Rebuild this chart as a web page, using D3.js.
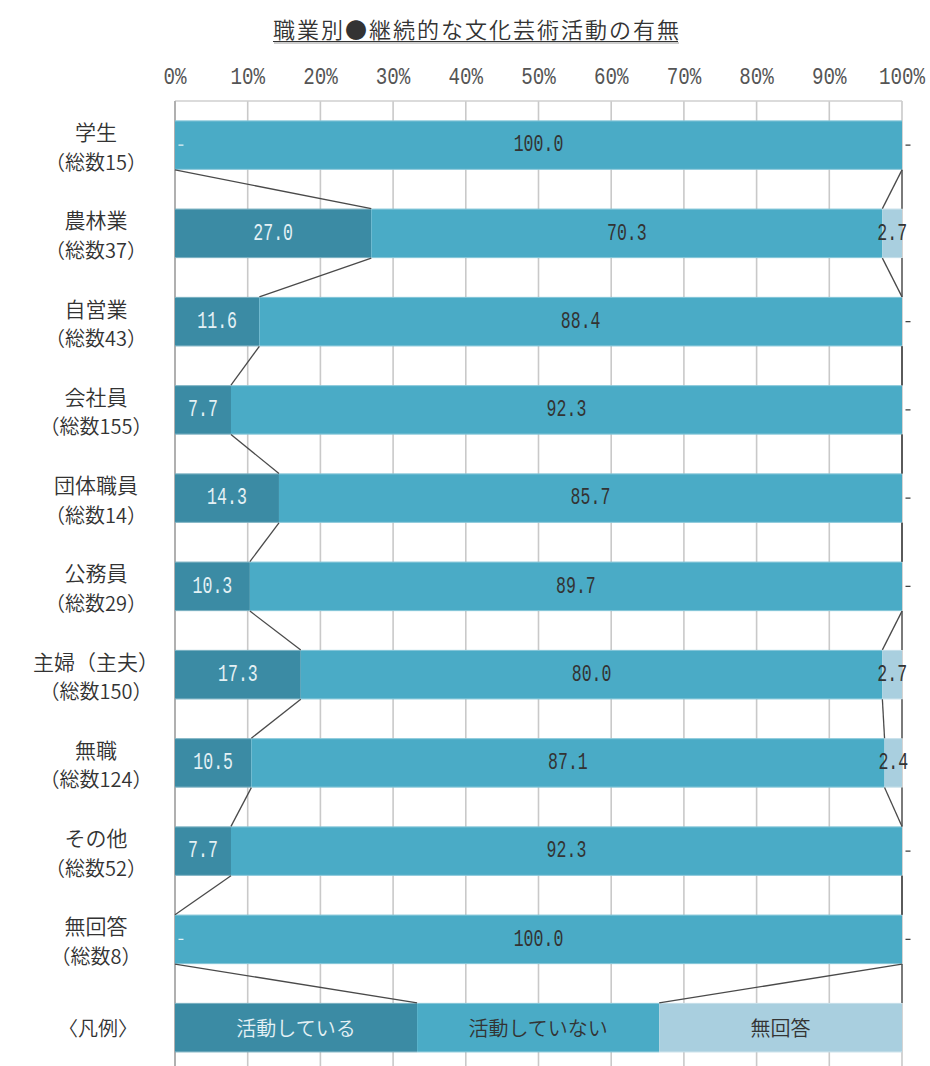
<!DOCTYPE html>
<html lang="ja">
<head>
<meta charset="utf-8">
<script src="https://cdn.jsdelivr.net/npm/d3@7"></script>
<style>
  html, body { margin: 0; padding: 0; background: #fff; }
  svg { display: block; }
</style>
</head>
<body>
<div id="chart"></div>
<script>
// 職業別の継続的な文化芸術活動の有無（構成比 %）
const chartTitle = "職業別●継続的な文化芸術活動の有無";
const categories = ["学生", "農林業", "自営業", "会社員", "団体職員", "公務員", "主婦（主夫）", "無職", "その他", "無回答"];
const totals     = [15, 37, 43, 155, 14, 29, 150, 124, 52, 8];
const seriesNames = ["活動している", "活動していない", "無回答"];
const active     = [0, 27.0, 11.6, 7.7, 14.3, 10.3, 17.3, 10.5, 7.7, 0];
const inactive   = [100.0, 70.3, 88.4, 92.3, 85.7, 89.7, 80.0, 87.1, 92.3, 100.0];
const noAnswer   = [0, 2.7, 0, 0, 0, 0, 2.7, 2.4, 0, 0];
const legendTitle = "〈凡例〉";
const legendShares = [33.3, 33.3, 33.4];
const tickValues = [0, 10, 20, 30, 40, 50, 60, 70, 80, 90, 100];
const tickLabels = ["0%", "10%", "20%", "30%", "40%", "50%", "60%", "70%", "80%", "90%", "100%"];

const W = 930, H = 1066;
const colors = ["#3b8ba4", "#4aabc6", "#a9cfdf"];
const labelColors = ["#e4f1f5", "#333333", "#333333"];
const cjk = "'Noto Sans CJK JP', 'Noto Sans', sans-serif";
const cjkWeight = 350;
const mono = "'Liberation Mono', 'DejaVu Sans Mono', monospace";

const svg = d3.select("#chart").append("svg")
  .attr("width", W).attr("height", H);

// rows: ten categories plus the legend row at the bottom
const table = categories.map((c, i) => ({
  key: i, label: c, total: totals[i],
  s0: active[i], s1: inactive[i], s2: noAnswer[i], legend: false
}));
table.push({ key: categories.length, label: legendTitle, total: null,
  s0: legendShares[0], s1: legendShares[1], s2: legendShares[2], legend: true });

const x = d3.scaleLinear().domain([0, 100]).range([175, 902]);
const step = 88.25;
const y = d3.scaleBand()
  .domain(table.map(d => d.key))
  .range([101, 101 + table.length * step])
  .paddingInner(0.44).paddingOuter(0.22);

const stack = d3.stack().keys(["s0", "s1", "s2"]);
const layers = stack(table);

// vertical gridlines
svg.append("g").selectAll("line").data(tickValues).join("line")
  .attr("x1", d => x(d)).attr("x2", d => x(d))
  .attr("y1", 101).attr("y2", H + 10)
  .attr("stroke", "#c9c9c9").attr("stroke-width", 1.6);
// top frame line and left axis
svg.append("line").attr("x1", x(0)).attr("x2", x(100)).attr("y1", 101).attr("y2", 101)
  .attr("stroke", "#cfcfcf").attr("stroke-width", 1.4);
svg.append("line").attr("x1", x(0)).attr("x2", x(0)).attr("y1", 101).attr("y2", H + 10)
  .attr("stroke", "#a8a8a8").attr("stroke-width", 1.6);

// percentage axis on top
const axis = d3.axisTop(x).tickValues(tickValues)
  .tickFormat((d, i) => tickLabels[i]).tickSize(0).tickPadding(0);
const gAxis = svg.append("g").attr("transform", "translate(0,84)").call(axis);
gAxis.select(".domain").remove();
gAxis.selectAll("text")
  .attr("y", 0)
  .attr("font-family", mono).attr("font-size", 24)
  .attr("fill", "#555").attr("transform", "scale(0.8,1)");
gAxis.selectAll(".tick").each(function(d) {
  d3.select(this).attr("transform", `translate(${x(d)},0)`);
});

// stacked bars
const gBars = svg.append("g");
layers.forEach((layer, k) => {
  gBars.append("g").selectAll("rect").data(layer).join("rect")
    .attr("x", d => x(d[0]))
    .attr("width", d => x(d[1]) - x(d[0]))
    .attr("y", d => y(d.data.key))
    .attr("height", y.bandwidth())
    .attr("fill", colors[k]);
});
// faint light edge along top and bottom of every bar
table.forEach(d => {
  [y(d.key) + 0.5, y(d.key) + y.bandwidth() - 0.5].forEach(yy => {
    svg.append("line").attr("x1", x(0)).attr("x2", x(100))
      .attr("y1", yy).attr("y2", yy)
      .attr("stroke", "#ffffff").attr("stroke-opacity", 0.35).attr("stroke-width", 1);
  });
});

// series lines connecting segment boundaries of neighbouring bars
const gSeries = svg.append("g");
layers.forEach(layer => {
  for (let i = 0; i < layer.length - 1; i++) {
    const a = layer[i], b = layer[i + 1];
    gSeries.append("line")
      .attr("x1", x(a[1])).attr("y1", y(a.data.key) + y.bandwidth())
      .attr("x2", x(b[1])).attr("y2", y(b.data.key))
      .attr("stroke", "#4a4a4a").attr("stroke-width", 1.3);
  }
});

// value labels
const gLabels = svg.append("g");
layers.forEach((layer, k) => {
  layer.forEach(d => {
    const row = d.data;
    const cy = y(row.key) + y.bandwidth() / 2;
    if (row.legend) {
      gLabels.append("text")
        .attr("x", x((d[0] + d[1]) / 2)).attr("y", cy)
        .attr("text-anchor", "middle").attr("dominant-baseline", "central")
        .attr("font-family", cjk).attr("font-weight", cjkWeight).attr("font-size", 20)
        .attr("fill", labelColors[k])
        .text(seriesNames[k]);
      return;
    }
    const v = d[1] - d[0];
    if (v > 0) {
      const cx = x((d[0] + d[1]) / 2);
      gLabels.append("text")
        .attr("transform", `translate(${cx},${cy}) scale(0.72,1)`)
        .attr("text-anchor", "middle").attr("dominant-baseline", "central")
        .attr("font-family", mono).attr("font-size", 23)
        .attr("fill", labelColors[k])
        .text(v.toFixed(1));
    } else {
      // zero share is marked with a dash
      const dx = x(d[0]) + 6;
      gLabels.append("line")
        .attr("x1", dx - 2.5).attr("x2", dx + 2.5)
        .attr("y1", cy).attr("y2", cy)
        .attr("stroke", k === 0 ? labelColors[0] : "#444").attr("stroke-width", 1.3);
    }
  });
});

// category labels
const gCat = svg.append("g");
table.forEach(d => {
  const cy = y(d.key) + y.bandwidth() / 2;
  if (d.legend) {
    gCat.append("text").attr("x", 98).attr("y", cy)
      .attr("text-anchor", "middle").attr("dominant-baseline", "central")
      .attr("font-family", cjk).attr("font-weight", cjkWeight).attr("font-size", 20).attr("fill", "#333")
      .text(d.label);
    return;
  }
  gCat.append("text").attr("x", 96).attr("y", cy - 14)
    .attr("text-anchor", "middle").attr("dominant-baseline", "central")
    .attr("font-family", cjk).attr("font-weight", cjkWeight).attr("font-size", 21).attr("fill", "#333")
    .text(d.label);
  gCat.append("text").attr("x", 96).attr("y", cy + 16)
    .attr("text-anchor", "middle").attr("dominant-baseline", "central")
    .attr("font-family", cjk).attr("font-weight", cjkWeight).attr("font-size", 20).attr("fill", "#333")
    .text(`（総数${d.total}）`);
});

// title with underline
const title = svg.append("text")
  .attr("x", 477).attr("y", 28)
  .attr("text-anchor", "middle").attr("dominant-baseline", "central")
  .attr("font-family", cjk).attr("font-weight", cjkWeight).attr("font-size", 22).attr("letter-spacing", 2)
  .attr("fill", "#333")
  .text(chartTitle);
const tb = title.node().getBBox();
svg.append("line").attr("x1", tb.x + 1).attr("x2", tb.x + tb.width - 2)
  .attr("y1", 43).attr("y2", 43).attr("stroke", "#bbb").attr("stroke-width", 1.5);
svg.append("line").attr("x1", tb.x).attr("x2", tb.x + tb.width - 3)
  .attr("y1", 41.5).attr("y2", 41.5).attr("stroke", "#333").attr("stroke-width", 1.2);
</script>
</body>
</html>
